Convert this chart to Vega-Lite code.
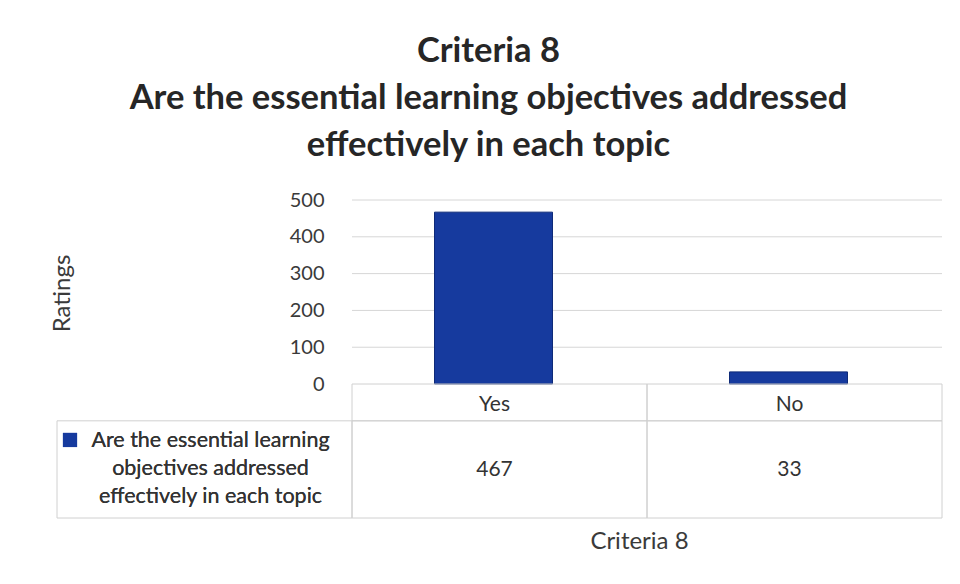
{
  "$schema": "https://vega.github.io/schema/vega-lite/v6.json",
  "autosize": {"type": "none"},
  "width": 885,
  "height": 318,
  "padding": {"left": 57, "top": 200, "right": 18, "bottom": 66},
  "background": "white",
  "config": {
    "view": {"stroke": null},
    "font": "Lato",
    "text": {"font": "Lato", "fontWeight": "normal"}
  },
  "title": {
    "text": ["Criteria 8", "Are the essential learning objectives addressed", "effectively in each topic"],
    "font": "Lato",
    "fontSize": 34.5,
    "fontWeight": "bold",
    "color": "#262626",
    "lineHeight": 47,
    "anchor": "middle",
    "frame": "group",
    "dx": -11,
    "offset": 27
  },
  "data": {"values": [
    {"category": "Yes", "rating": 467},
    {"category": "No", "rating": 33}
  ]},
  "layer": [
    {
      "data": {"values": [{"tick": 100}, {"tick": 200}, {"tick": 300}, {"tick": 400}, {"tick": 500}]},
      "mark": {"type": "rule", "color": "#d6d6d6", "strokeWidth": 1},
      "encoding": {
        "x": {"datum": "Yes", "bandPosition": 0, "type": "nominal"},
        "x2": {"datum": "No", "bandPosition": 1},
        "y": {"field": "tick", "type": "quantitative"}
      }
    },
    {
      "mark": {"type": "bar", "width": {"band": 0.4}, "color": "#163a9e", "stroke": "#0e2a78", "strokeWidth": 1, "xOffset": -6},
      "encoding": {
        "x": {
          "field": "category", "type": "nominal",
          "scale": {"domain": ["label", "Yes", "No"], "paddingInner": 0, "paddingOuter": 0},
          "axis": {"labels": false, "ticks": false, "domain": false, "title": "Criteria 8", "titleFontSize": 24, "titleFontWeight": "normal", "titleColor": "#3a3a3a", "titleX": 582, "titleY": 23, "titleBaseline": "middle", "titleFont": "Lato"}
        },
        "y": {
          "field": "rating", "type": "quantitative",
          "scale": {"domain": [-364, 500], "nice": false, "zero": false},
          "axis": {"values": [0, 100, 200, 300, 400, 500], "offset": -295, "domain": false, "ticks": false, "grid": false, "labelPadding": 28, "labelFontSize": 20, "labelColor": "#3a3a3a", "labelFont": "Lato", "title": "Ratings", "titleFont": "Lato", "titleFontSize": 24, "titleFontWeight": "normal", "titleColor": "#3a3a3a", "titleX": -278, "titleY": 93, "titleAngle": -90, "titleBaseline": "bottom"}
        }
      }
    },
    {
      "mark": {"type": "rect", "fill": null, "stroke": "#d0d0d0", "strokeWidth": 1},
      "encoding": {
        "x": {"field": "category", "type": "nominal"},
        "y": {"datum": 0},
        "y2": {"datum": -100}
      }
    },
    {
      "data": {"values": [{"category": "label"}, {"category": "Yes"}, {"category": "No"}]},
      "mark": {"type": "rect", "fill": null, "stroke": "#d0d0d0", "strokeWidth": 1},
      "encoding": {
        "x": {"field": "category", "type": "nominal"},
        "y": {"datum": -100},
        "y2": {"datum": -364}
      }
    },
    {
      "mark": {"type": "text", "fontSize": 21, "fontWeight": "normal", "color": "#333333", "baseline": "middle", "align": "center", "dx": -5},
      "encoding": {
        "x": {"field": "category", "type": "nominal"},
        "y": {"datum": -57},
        "text": {"field": "category"}
      }
    },
    {
      "mark": {"type": "text", "fontSize": 21, "fontWeight": "normal", "color": "#333333", "baseline": "middle", "align": "center", "dx": -5},
      "encoding": {
        "x": {"field": "category", "type": "nominal"},
        "y": {"datum": -234},
        "text": {"field": "rating", "type": "quantitative"}
      }
    },
    {
      "mark": {"type": "text", "fontSize": 21.5, "fontWeight": "normal", "color": "#333333", "baseline": "middle", "align": "center", "lineHeight": 28, "dx": 6},
      "encoding": {
        "x": {"datum": "label"},
        "y": {"datum": -155},
        "text": {"value": ["Are the essential learning", "objectives addressed", "effectively in each topic"]}
      }
    },
    {
      "mark": {"type": "point", "shape": "square", "filled": true, "size": 200, "color": "#163a9e", "opacity": 1, "xOffset": 13},
      "encoding": {
        "x": {"datum": "label", "bandPosition": 0},
        "y": {"datum": -152}
      }
    }
  ]
}
